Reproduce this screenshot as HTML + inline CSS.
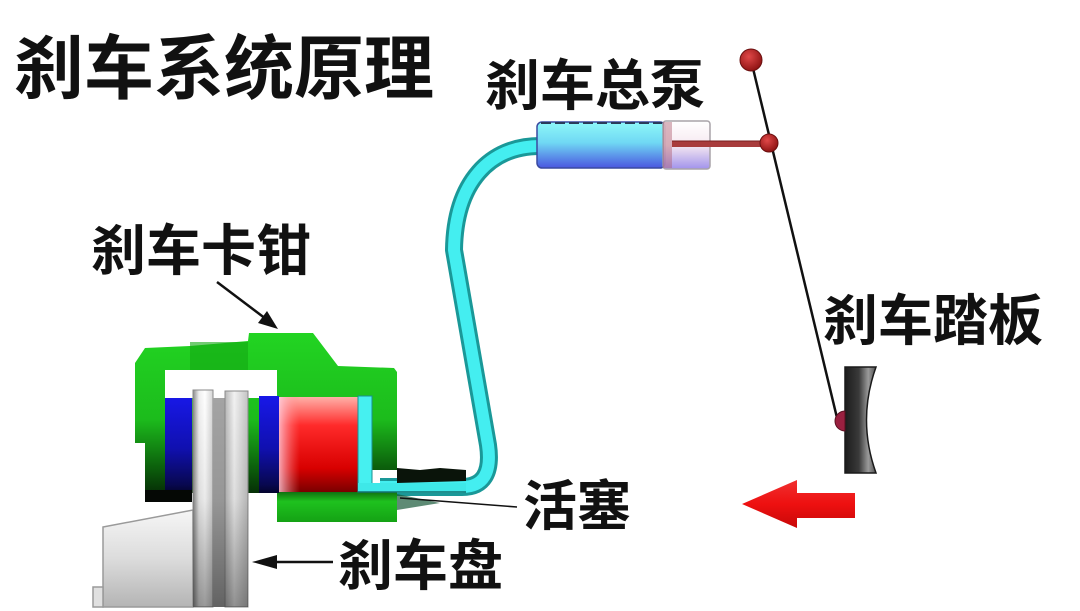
<!DOCTYPE html>
<html><head><meta charset="utf-8"><style>
html,body{margin:0;padding:0;background:#fff;}
svg{display:block;}
text{font-family:"Liberation Sans","Noto Sans CJK SC",sans-serif;font-weight:700;fill:#111;}
</style></head><body>
<svg width="1080" height="611" viewBox="0 0 1080 611" xmlns="http://www.w3.org/2000/svg">
<defs>
<linearGradient id="gGreen" x1="0" y1="333" x2="0" y2="505" gradientUnits="userSpaceOnUse">
<stop offset="0" stop-color="#22d422"/><stop offset="0.5" stop-color="#1cbc1c"/><stop offset="0.78" stop-color="#0c600c"/><stop offset="1" stop-color="#031803"/>
</linearGradient>
<linearGradient id="gBot" x1="0" y1="490" x2="0" y2="523" gradientUnits="userSpaceOnUse">
<stop offset="0" stop-color="#0e600e"/><stop offset="0.35" stop-color="#1ec21e"/><stop offset="1" stop-color="#14a014"/>
</linearGradient>
<linearGradient id="gBlue" x1="0" y1="396" x2="0" y2="500" gradientUnits="userSpaceOnUse">
<stop offset="0" stop-color="#1818e8"/><stop offset="0.5" stop-color="#1010b0"/><stop offset="0.85" stop-color="#080850"/><stop offset="1" stop-color="#000010"/>
</linearGradient>
<linearGradient id="gRed" x1="0" y1="397" x2="0" y2="492" gradientUnits="userSpaceOnUse">
<stop offset="0" stop-color="#ffb0a8"/><stop offset="0.3" stop-color="#ff2a2a"/><stop offset="0.75" stop-color="#d80000"/><stop offset="1" stop-color="#7a0000"/>
</linearGradient>
<linearGradient id="gRedL" x1="279" y1="0" x2="300" y2="0" gradientUnits="userSpaceOnUse">
<stop offset="0" stop-color="#ffd0e0" stop-opacity="0.8"/><stop offset="1" stop-color="#ff8080" stop-opacity="0"/>
</linearGradient>
<linearGradient id="gHub" x1="0" y1="510" x2="0" y2="607" gradientUnits="userSpaceOnUse">
<stop offset="0" stop-color="#f6f6f6"/><stop offset="0.5" stop-color="#dcdcdc"/><stop offset="1" stop-color="#b4b4b4"/>
</linearGradient>
<linearGradient id="gP1" x1="193" y1="0" x2="213" y2="0" gradientUnits="userSpaceOnUse">
<stop offset="0" stop-color="#8a8a8a"/><stop offset="0.3" stop-color="#efefef"/><stop offset="0.6" stop-color="#ffffff"/><stop offset="1" stop-color="#d4d4d4"/>
</linearGradient>
<linearGradient id="gP2" x1="225" y1="0" x2="248" y2="0" gradientUnits="userSpaceOnUse">
<stop offset="0" stop-color="#b8b8b8"/><stop offset="0.4" stop-color="#f2f2f2"/><stop offset="1" stop-color="#c4c4c4"/>
</linearGradient>
<linearGradient id="gShade" x1="0" y1="390" x2="0" y2="607" gradientUnits="userSpaceOnUse">
<stop offset="0" stop-color="#000" stop-opacity="0"/><stop offset="0.5" stop-color="#000" stop-opacity="0.08"/><stop offset="1" stop-color="#000" stop-opacity="0.4"/>
</linearGradient>
<linearGradient id="gCyl" x1="0" y1="122" x2="0" y2="168" gradientUnits="userSpaceOnUse">
<stop offset="0" stop-color="#8ef8f8"/><stop offset="0.45" stop-color="#70d8f4"/><stop offset="1" stop-color="#4a56e0"/>
</linearGradient>
<linearGradient id="gTrans" x1="0" y1="122" x2="0" y2="168" gradientUnits="userSpaceOnUse">
<stop offset="0" stop-color="#ffffff"/><stop offset="0.5" stop-color="#f6e8f0"/><stop offset="1" stop-color="#9c8cea"/>
</linearGradient>
<linearGradient id="gPedal" x1="845" y1="0" x2="876" y2="0" gradientUnits="userSpaceOnUse">
<stop offset="0" stop-color="#1c1c1c"/><stop offset="0.45" stop-color="#3a3a3a"/><stop offset="0.75" stop-color="#9a9a9a"/><stop offset="1" stop-color="#505050"/>
</linearGradient>
<linearGradient id="gArrow" x1="0" y1="480" x2="0" y2="528" gradientUnits="userSpaceOnUse">
<stop offset="0" stop-color="#f03030"/><stop offset="0.5" stop-color="#ee1010"/><stop offset="1" stop-color="#c80808"/>
</linearGradient>
<radialGradient id="gBall" cx="0.4" cy="0.35" r="0.7">
<stop offset="0" stop-color="#e04848"/><stop offset="1" stop-color="#8a1010"/>
</radialGradient>
</defs>

<!-- Title -->
<text x="14" y="93" font-size="70">刹车系统原理</text>
<!-- Labels -->
<text x="485" y="105" font-size="55">刹车总泵</text>
<text x="91" y="270" font-size="55">刹车卡钳</text>
<text x="823" y="340" font-size="55">刹车踏板</text>
<text x="523" y="525" font-size="54">活塞</text>
<text x="338" y="585" font-size="55">刹车盘</text>

<!-- caliper label arrow -->
<line x1="217" y1="282" x2="266" y2="319" stroke="#111" stroke-width="2.5"/>
<polygon points="278,329 258,323 267,311" fill="#111"/>

<!-- Hose -->
<path d="M540,146 C490,146 455,182 454,250 L488,445 Q494,487 462,487 L380,487" fill="none" stroke="#1a9898" stroke-width="18" stroke-linejoin="round"/>
<path d="M540,146 C490,146 455,182 454,250 L488,445 Q494,487 462,487 L380,487" fill="none" stroke="#44eef0" stroke-width="12" stroke-linejoin="round"/>

<!-- Hub -->
<polygon points="103,527 193,510 193,607 103,607" fill="url(#gHub)" stroke="#9a9a9a" stroke-width="1.5"/>
<rect x="93" y="587" width="10" height="20" fill="#e0e0e0" stroke="#9a9a9a" stroke-width="1.5"/>

<!-- Caliper green body -->
<path d="M135,363 L145,348 L190,346 L248,341 L249,333 L313,333 L338,366 L394,368 L397,372 L397,470 L372,470 L372,493 L192,493 L192,502 L145,502 L145,443 L135,443 Z" fill="url(#gGreen)"/>
<rect x="190" y="342" width="58" height="28" fill="#14a814" opacity="0.6"/>
<path d="M277,492 L397,492 L397,522 L277,522 Z" fill="url(#gBot)"/>
<polygon points="397,494 440,503 397,510" fill="#1a5a3a" opacity="0.7"/>
<!-- cavity -->
<rect x="165" y="370" width="112" height="28" fill="#fff"/>
<!-- pads -->
<rect x="165" y="398" width="27" height="95" fill="url(#gBlue)"/>
<rect x="145" y="490" width="47" height="12" fill="#050805"/>
<rect x="259" y="396" width="20" height="97" fill="url(#gBlue)"/>
<!-- piston -->
<rect x="279" y="397" width="79" height="95" fill="url(#gRed)"/>
<rect x="279" y="397" width="21" height="95" fill="url(#gRedL)"/>
<!-- fluid -->
<rect x="358" y="396" width="14" height="96" fill="#46f0f0" stroke="#1a9090" stroke-width="1"/>
<!-- fitting -->
<polygon points="397,468 420,470 440,468 466,470 466,481 397,483" fill="#0a140a"/>
<rect x="358" y="483" width="108" height="9" fill="#3ee8e8"/>
<line x1="358" y1="492" x2="466" y2="492" stroke="#137070" stroke-width="1.5"/>
<line x1="400" y1="498" x2="517" y2="507" stroke="#111" stroke-width="1.6"/>

<!-- Rotor -->
<rect x="193" y="390" width="20" height="217" fill="url(#gP1)" stroke="#8a8a8a" stroke-width="1"/>
<rect x="213" y="398" width="12" height="209" fill="#a4a4a4"/>
<rect x="225" y="391" width="23" height="216" fill="url(#gP2)" stroke="#8a8a8a" stroke-width="1"/>
<rect x="193" y="390" width="55" height="217" fill="url(#gShade)"/>

<!-- rotor label arrow -->
<line x1="270" y1="562" x2="333" y2="562" stroke="#111" stroke-width="2.5"/>
<polygon points="252,562 277,555 277,569" fill="#111"/>

<!-- Master cylinder -->
<rect x="537" y="122" width="128" height="46" rx="5" fill="url(#gCyl)" stroke="#3a4aa0" stroke-width="1.5"/>
<line x1="541" y1="123" x2="662" y2="123" stroke="#2a3a5a" stroke-width="2" stroke-dasharray="10,4"/>
<rect x="663" y="121" width="47" height="48" rx="3" fill="url(#gTrans)" stroke="#a09aa0" stroke-width="1.5" opacity="0.9"/>
<rect x="663" y="122" width="9" height="46" fill="#b06070" opacity="0.45"/>
<rect x="672" y="141" width="94" height="6" fill="#a83c3c"/>
<line x1="672" y1="141" x2="766" y2="141" stroke="#7a2020" stroke-width="1"/>

<!-- Lever -->
<line x1="751" y1="60" x2="838" y2="422" stroke="#111" stroke-width="2.5"/>
<circle cx="751" cy="60" r="11" fill="url(#gBall)" stroke="#6a1010" stroke-width="1"/>
<circle cx="769" cy="143" r="9" fill="url(#gBall)" stroke="#6a1010" stroke-width="1"/>

<!-- Pedal -->
<path d="M845,367 L876,367 Q857,420 876,473 L845,473 Z" fill="url(#gPedal)" stroke="#1a1a1a" stroke-width="1.5"/>
<path d="M845,411 A10,10 0 0 0 845,431 Z" fill="#9a2040" stroke="#5a1020" stroke-width="1"/>

<!-- Red arrow -->
<polygon points="742,504 797,480 797,493 855,493 855,518 797,518 797,528" fill="url(#gArrow)"/>
</svg>
</body></html>
